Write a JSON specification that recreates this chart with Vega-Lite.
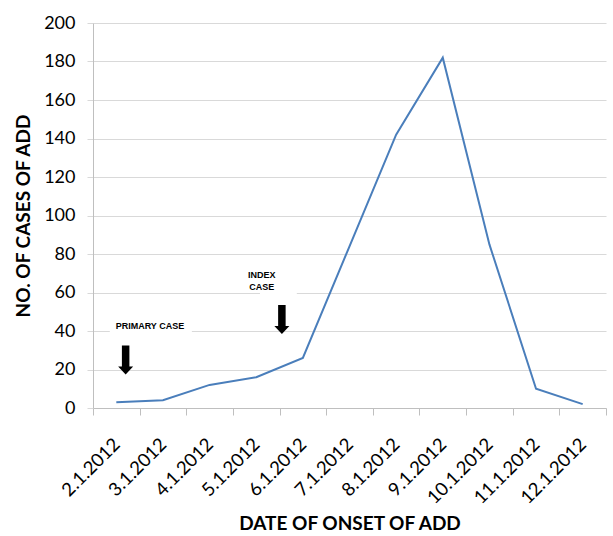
{
  "$schema": "https://vega.github.io/schema/vega-lite/v6.json",
  "autosize": "none",
  "width": 513,
  "height": 385,
  "padding": {"left": 93, "top": 23, "right": 7, "bottom": 128},
  "background": "white",
  "config": {
    "view": {"stroke": null},
    "font": "Lato"
  },
  "datasets": {
    "cases": [
      {"x": 2, "y": 3},
      {"x": 3, "y": 4},
      {"x": 4, "y": 12},
      {"x": 5, "y": 16},
      {"x": 6, "y": 26},
      {"x": 7, "y": 84},
      {"x": 8, "y": 142},
      {"x": 9, "y": 182},
      {"x": 10, "y": 85},
      {"x": 11, "y": 10},
      {"x": 12, "y": 2}
    ],
    "boxes": [
      {"x": 1.86, "x2": 3.62, "y": 37, "y2": 46},
      {"x": 5.08, "x2": 5.87, "y": 57, "y2": 73}
    ],
    "notes": [
      {"x": 2.72, "y": 42.5, "label": "PRIMARY CASE", "align": "center"},
      {"x": 5.12, "y": 69.3, "label": "INDEX", "align": "left"},
      {"x": 5.12, "y": 63.0, "label": "CASE", "align": "left"}
    ],
    "arrows": [
      {"x": 2.2, "y": 24.9},
      {"x": 5.55, "y": 46.0}
    ]
  },
  "encoding": {
    "x": {
      "field": "x",
      "type": "quantitative",
      "scale": {"domain": [1.5, 12.5], "nice": false, "zero": false},
      "axis": {
        "values": [1.5, 2, 2.5, 3, 3.5, 4, 4.5, 5, 5.5, 6, 6.5, 7, 7.5, 8, 8.5, 9, 9.5, 10, 10.5, 11, 11.5, 12, 12.5],
        "labelExpr": "datum.value % 1 == 0 ? datum.value + '.1.2012' : ''",
        "labelAngle": -45,
        "labelAlign": "right",
        "labelBaseline": "middle",
        "labelFontSize": 18.5,
        "labelColor": "#000000",
        "labelPadding": 26,
        "labelOverlap": false,
        "labelFlush": false,
        "labelBound": false,
        "tickSize": 7,
        "tickColor": "#bfbfbf",
        "tickOpacity": {"condition": {"test": "datum.value % 1 == 0", "value": 0}, "value": 1},
        "domainColor": "#bfbfbf",
        "grid": false,
        "title": "DATE OF ONSET OF ADD",
        "titleFontSize": 19,
        "titleFontWeight": "bold",
        "titleColor": "#000000",
        "titlePadding": 7
      }
    },
    "y": {
      "field": "y",
      "type": "quantitative",
      "scale": {"domain": [0, 200], "nice": false},
      "axis": {
        "values": [0, 20, 40, 60, 80, 100, 120, 140, 160, 180, 200],
        "labelFontSize": 18,
        "labelColor": "#000000",
        "labelPadding": 12,
        "labelOverlap": false,
        "tickSize": 6,
        "tickColor": "#d9d9d9",
        "domainColor": "#bfbfbf",
        "gridColor": "#d9d9d9",
        "gridWidth": 1.2,
        "title": "NO. OF CASES OF ADD",
        "titleFontSize": 19,
        "titleFontWeight": "bold",
        "titleColor": "#000000",
        "titlePadding": 10
      }
    }
  },
  "layer": [
    {
      "data": {"name": "cases"},
      "mark": {"type": "line", "color": "#4a7ebb", "strokeWidth": 2}
    },
    {
      "data": {"name": "boxes"},
      "mark": {"type": "rect", "color": "white"},
      "encoding": {
        "x2": {"field": "x2"},
        "y2": {"field": "y2"}
      }
    },
    {
      "data": {"name": "notes"},
      "mark": {"type": "text", "font": "Liberation Sans", "fontWeight": "bold", "fontSize": 9, "color": "#000000", "baseline": "middle"},
      "encoding": {
        "text": {"field": "label"},
        "align": {"field": "align"}
      }
    },
    {
      "data": {"name": "arrows"},
      "mark": {
        "type": "point",
        "shape": "M-0.5,-1.93L0.5,-1.93L0.5,0.86L1,0.86L0,1.93L-1,0.86L-0.5,0.86Z",
        "size": 225,
        "filled": true,
        "color": "#000000",
        "opacity": 1
      }
    }
  ]
}
